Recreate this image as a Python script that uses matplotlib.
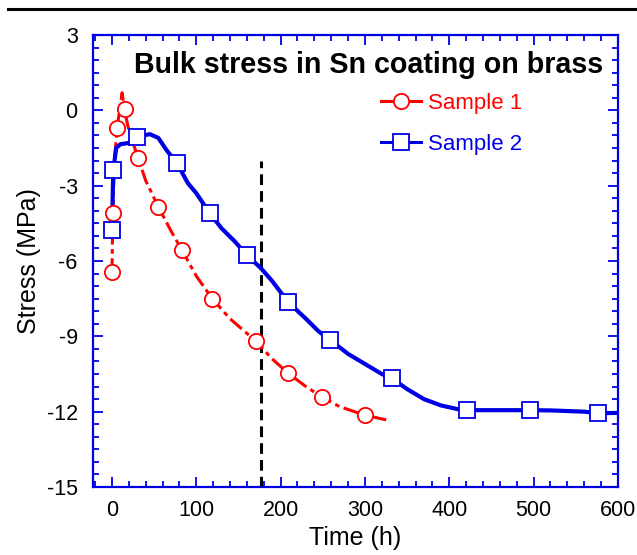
import matplotlib
matplotlib.use("Agg")
import matplotlib.pyplot as plt
from matplotlib.lines import Line2D
from matplotlib.ticker import MultipleLocator

plt.rcParams['font.family'] = ['Liberation Sans', 'DejaVu Sans']
plt.rcParams['axes.unicode_minus'] = False

# Sample 1 (red) - curve and marker points
s1_t = [0, 1, 3, 6, 10, 12, 15, 20, 25, 31, 40, 55, 70, 83, 100, 119,
        140, 171, 190, 209, 230, 249, 270, 300, 327]
s1_y = [-6.5, -4.1, -2.0, -0.7, 0.2, 0.7, 0.0, -0.8, -1.3, -1.9, -2.8, -3.85,
        -4.8, -5.57, -6.6, -7.5, -8.3, -9.2, -9.9, -10.47, -11.0, -11.42,
        -11.8, -12.14, -12.34]
s1_mt = [0, 1, 6, 15, 31, 55, 83, 119, 171, 209, 249, 300]
s1_my = [-6.45, -4.1, -0.7, 0.05, -1.9, -3.85, -5.57, -7.5, -9.2, -10.47, -11.42, -12.14]

# Sample 2 (blue)
s2_t = [0, 1.5, 5, 10, 20, 30, 45, 55, 65, 77, 90, 100, 116, 130, 145, 160,
        177, 190, 209, 230, 245, 259, 280, 300, 320, 332, 350, 370, 390, 410,
        421, 496, 520, 560, 576, 600]
s2_y = [-4.8, -2.4, -1.5, -1.35, -1.3, -1.05, -0.95, -1.1, -1.6, -2.1, -2.9,
        -3.3, -4.1, -4.7, -5.2, -5.76, -6.3, -6.8, -7.64, -8.3, -8.8, -9.15,
        -9.7, -10.1, -10.5, -10.67, -11.1, -11.5, -11.75, -11.9, -11.94,
        -11.94, -11.95, -12.0, -12.06, -12.05]
s2_mt = [0, 1.5, 29.5, 77, 116, 160, 209, 259, 332, 421, 496, 576]
s2_my = [-4.75, -2.38, -1.06, -2.1, -4.1, -5.76, -7.64, -9.15, -10.67, -11.94, -11.94, -12.06]

mark_time = 177
mark_top = -2.0

red = '#ff0000'
blue = '#0000e6'

fig = plt.figure(figsize=(6.37, 5.55), dpi=100)
ax = fig.add_axes([0.146, 0.1225, 0.824, 0.8145])

# top rule line across the figure
fig.add_artist(Line2D([0.012, 1.0], [0.983, 0.983], transform=fig.transFigure,
                      color='black', lw=2.2))

ax.plot([mark_time, mark_time], [-15, mark_top], color='black', lw=2.2,
        linestyle=(0, (3.5, 2)), zorder=1)

ax.plot(s1_t, s1_y, color=red, lw=2.2, linestyle=(0, (5, 1.5, 1.5, 1.5)), zorder=2)
ax.plot(s1_mt, s1_my, 'o', ms=11, mfc='white', mec=red, mew=1.3, zorder=3)
ax.plot(s2_t, s2_y, color=blue, lw=3, zorder=2)
ax.plot(s2_mt, s2_my, 's', ms=11, mfc='white', mec=blue, mew=1.3, zorder=3)

h1 = Line2D([], [], color=red, lw=2.2, marker='o', ms=11, mfc='white', mec=red, mew=1.3)
h2 = Line2D([], [], color=blue, lw=2.2, marker='s', ms=11, mfc='white', mec=blue, mew=1.3)
leg = ax.legend([h1, h2], ['Sample 1', 'Sample 2'], loc='upper left',
                bbox_to_anchor=(0.548, 0.872), frameon=False, fontsize=16,
                handlelength=1.8, handletextpad=0.35, labelspacing=0.9,
                borderpad=0, borderaxespad=0)
for txt, c in zip(leg.get_texts(), [red, blue]):
    txt.set_color(c)

ax.text(0.525, 0.934, 'Bulk stress in Sn coating on brass', transform=ax.transAxes,
        ha='center', va='center', fontsize=20.6, fontweight='bold')

ax.set_xlim(-22.5, 600)
ax.set_ylim(-15, 3)
ax.xaxis.set_major_locator(MultipleLocator(100))
ax.xaxis.set_minor_locator(MultipleLocator(20))
ax.yaxis.set_major_locator(MultipleLocator(3))
ax.yaxis.set_minor_locator(MultipleLocator(0.5))

for s in ax.spines.values():
    s.set_color(blue)
    s.set_linewidth(1.6)
ax.tick_params(which='both', direction='in', top=True, right=True, color=blue,
               width=1.3, labelsize=15.5)
ax.tick_params(which='major', length=7)
ax.tick_params(which='minor', length=4)
ax.tick_params(axis='x', pad=9)
ax.tick_params(axis='y', pad=11)

ax.set_xlabel('Time (h)', fontsize=18, labelpad=4)
ax.set_ylabel('Stress (MPa)', fontsize=18, labelpad=4)

fig.savefig('out.png', dpi=100)
